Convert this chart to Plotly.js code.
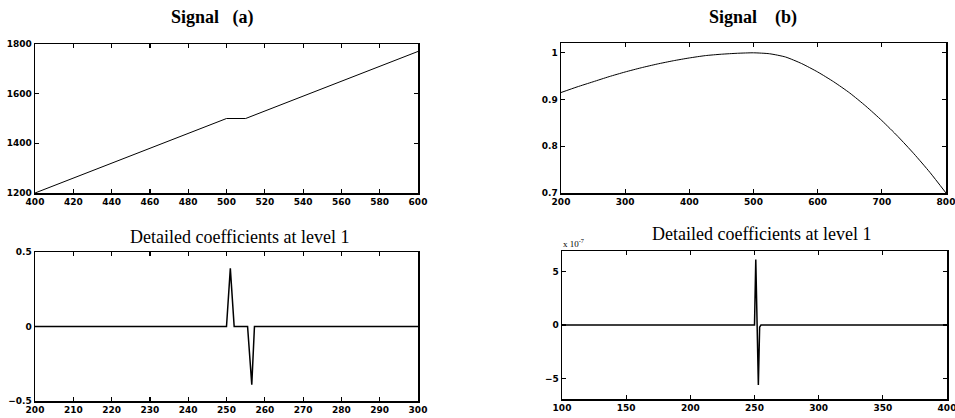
<!DOCTYPE html>
<html>
<head>
<meta charset="utf-8">
<script src="https://cdn.plot.ly/plotly-3.0.1.min.js"></script>
<style>html,body{margin:0;padding:0;background:#fff;}#chart{width:955px;height:418px;}</style>
</head>
<body>
<div id="chart"></div>
<script>
// Panel (a) signal
const sigA_x = [400, 500, 510, 600];
const sigA_y = [1200, 1500, 1500, 1770];
// Panel (b) signal
const sigB_x = [200, 225, 250, 275, 300, 325, 350, 375, 400, 425, 450, 475, 500, 525, 550, 575, 600, 625, 650, 675, 700, 725, 750, 775, 800];
const sigB_y = [0.915, 0.927, 0.938, 0.949, 0.959, 0.968, 0.976, 0.983, 0.989, 0.994, 0.997, 0.999, 1.000, 0.998, 0.991, 0.977, 0.959, 0.938, 0.914, 0.886, 0.855, 0.821, 0.784, 0.744, 0.700];
// Detail coefficients level 1, panel (a)
const detA_x = [200, 250, 251, 252, 255.5, 256.6, 257.3, 300];
const detA_y = [0, 0, 0.39, 0, 0, -0.39, 0, 0];
// Detail coefficients level 1, panel (b) (units of 1e-7)
const detB_x = [100, 250, 251, 252, 253, 254, 255, 400];
const detB_y = [0, 0, 6.1, 0.3, -5.6, -0.2, 0, 0];

// Tick values
const ticksA_x = [400, 420, 440, 460, 480, 500, 520, 540, 560, 580, 600];
const ticksA_y = [1200, 1400, 1600, 1800];
const ticksB_x = [200, 300, 400, 500, 600, 700, 800];
const ticksB_y = [0.7, 0.8, 0.9, 1];
const ticksC_x = [200, 210, 220, 230, 240, 250, 260, 270, 280, 290, 300];
const ticksC_y = [-0.5, 0, 0.5];
const ticksD_x = [100, 150, 200, 250, 300, 350, 400];
const ticksD_y = [-5, 0, 5];

const W = 955, H = 418;
const dx = (a, b) => [a / W, b / W];
const dy = (top, bot) => [(H - bot) / H, (H - top) / H];

const tickFont = {family: 'DejaVu Sans', size: 9, color: '#000', weight: 'bold'};
function ax(extra) {
  return Object.assign({
    showline: true, linecolor: '#000', linewidth: 1.5, mirror: 'ticks',
    ticks: 'inside', ticklen: 4, tickwidth: 1.2, tickcolor: '#000',
    showgrid: false, zeroline: false, tickfont: tickFont, ticklabelstandoff: 0,
    ticklabeloverflow: 'allow'
  }, extra);
}

const traces = [
  {x: sigA_x, y: sigA_y, xaxis: 'x', yaxis: 'y', mode: 'lines', line: {color: '#000', width: 1}},
  {x: sigB_x, y: sigB_y, xaxis: 'x2', yaxis: 'y2', mode: 'lines', line: {color: '#000', width: 1, shape: 'spline', smoothing: 0.6}},
  {x: detA_x, y: detA_y, xaxis: 'x3', yaxis: 'y3', mode: 'lines', line: {color: '#000', width: 1.5}},
  {x: detB_x, y: detB_y, xaxis: 'x4', yaxis: 'y4', mode: 'lines', line: {color: '#000', width: 1.5}}
];

const layout = {
  width: W, height: H, margin: {l: 0, r: 0, t: 0, b: 0},
  paper_bgcolor: '#fff', plot_bgcolor: '#fff', showlegend: false,
  xaxis: ax({domain: dx(35, 418), range: [400, 600], tickvals: ticksA_x, anchor: 'y'}),
  yaxis: ax({domain: dy(44, 193), range: [1200, 1800], tickvals: ticksA_y, anchor: 'x'}),
  xaxis2: ax({domain: dx(561, 946), range: [200, 800], tickvals: ticksB_x, anchor: 'y2'}),
  yaxis2: ax({domain: dy(43, 193), range: [0.7, 1.021], tickvals: ticksB_y, ticktext: ['0.7', '0.8', '0.9', '1'], anchor: 'x2'}),
  xaxis3: ax({domain: dx(35, 418), range: [200, 300], tickvals: ticksC_x, anchor: 'y3'}),
  yaxis3: ax({domain: dy(252, 401), range: [-0.5, 0.5], tickvals: ticksC_y, ticktext: ['−0.5', '0', '0.5'], anchor: 'x3'}),
  xaxis4: ax({domain: dx(562, 947), range: [100, 400], tickvals: ticksD_x, anchor: 'y4'}),
  yaxis4: ax({domain: dy(251, 399), range: [-6.9, 6.9], tickvals: ticksD_y, ticktext: ['−5', '0', '5'], anchor: 'x4'}),
  annotations: [
    {text: 'Signal &nbsp; (a)', x: 212 / W, y: 1 - 17 / H, xref: 'paper', yref: 'paper', showarrow: false,
     xanchor: 'center', yanchor: 'middle', font: {family: 'Liberation Serif', size: 18, color: '#000', weight: 'bold'}},
    {text: 'Signal &nbsp; &nbsp;(b)', x: 753 / W, y: 1 - 17 / H, xref: 'paper', yref: 'paper', showarrow: false,
     xanchor: 'center', yanchor: 'middle', font: {family: 'Liberation Serif', size: 18, color: '#000', weight: 'bold'}},
    {text: 'Detailed coefficients at level 1', x: 240 / W, y: 1 - 237 / H, xref: 'paper', yref: 'paper', showarrow: false,
     xanchor: 'center', yanchor: 'middle', font: {family: 'Liberation Serif', size: 18, color: '#000'}},
    {text: 'Detailed coefficients at level 1', x: 762 / W, y: 1 - 234 / H, xref: 'paper', yref: 'paper', showarrow: false,
     xanchor: 'center', yanchor: 'middle', font: {family: 'Liberation Serif', size: 18, color: '#000'}},
    {text: 'x 10<sup>-7</sup>', x: 561 / W, y: 1 - 243 / H, xref: 'paper', yref: 'paper', showarrow: false,
     xanchor: 'left', yanchor: 'middle', font: {family: 'Liberation Serif', size: 9, color: '#000'}}
  ]
};

Plotly.newPlot('chart', traces, layout, {staticPlot: true});
</script>
</body>
</html>
